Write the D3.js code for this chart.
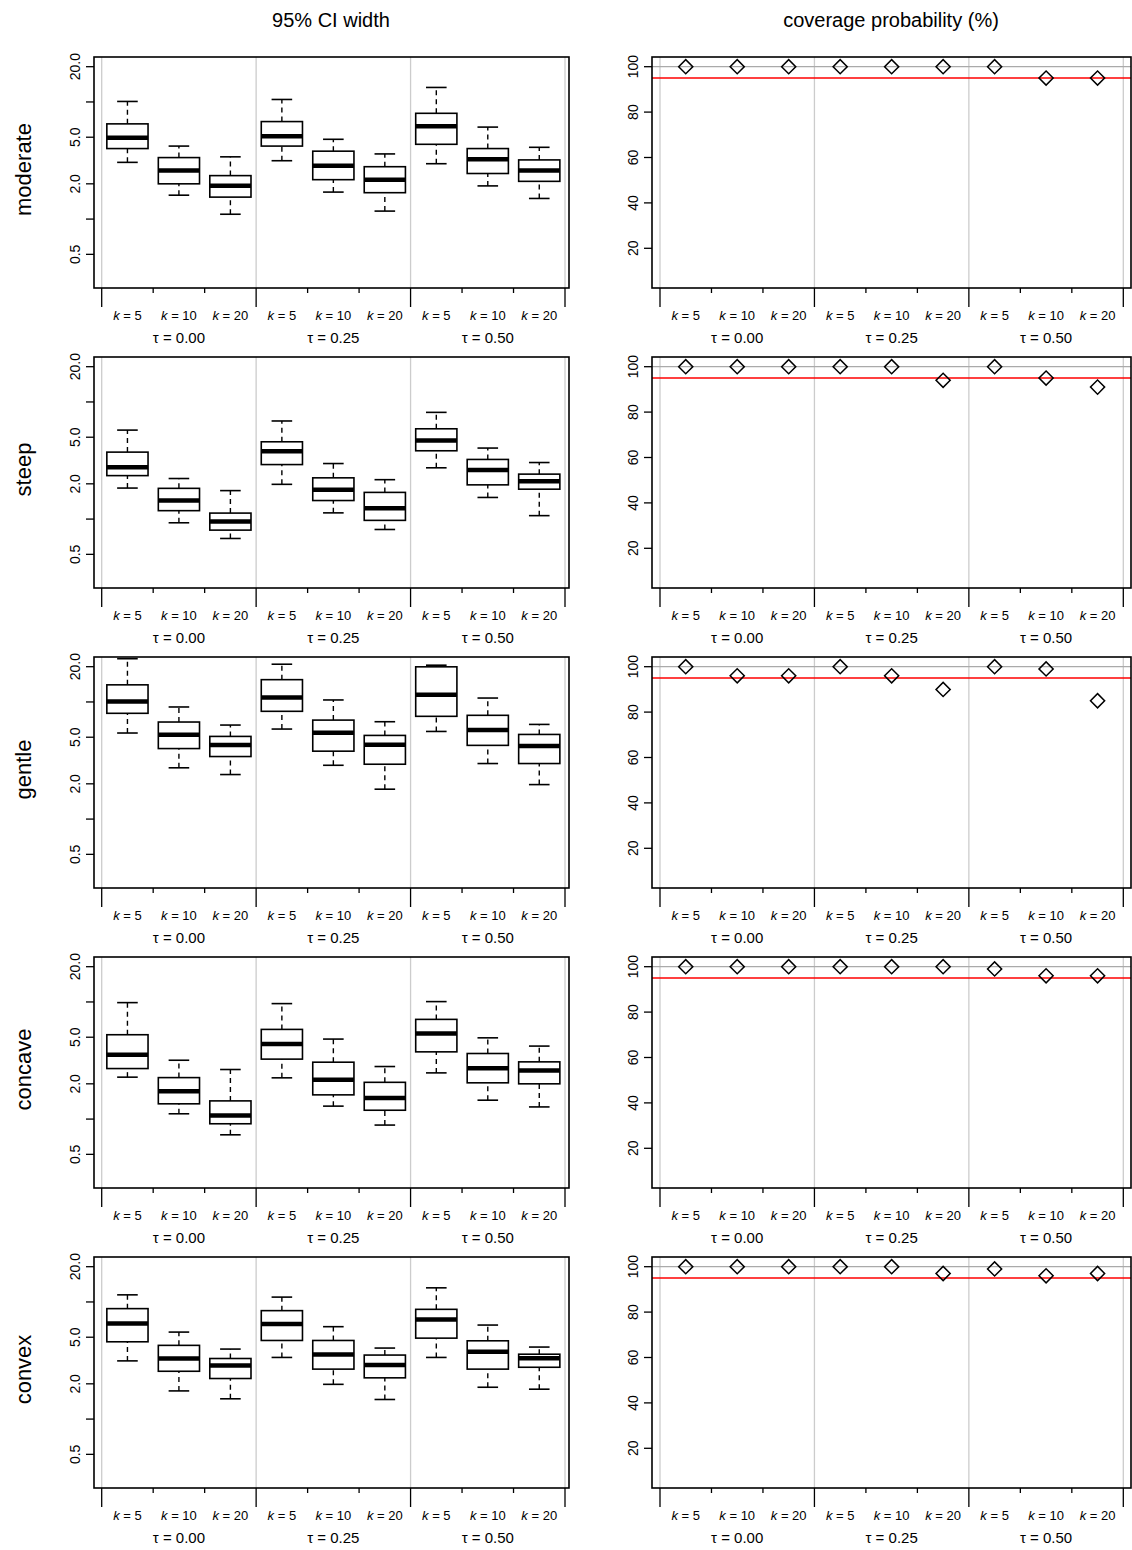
<!DOCTYPE html>
<html>
<head>
<meta charset="utf-8">
<script src="https://cdn.jsdelivr.net/npm/d3@7"></script>
<style>
  body { margin: 0; background: #fff; }
  text { font-family: "Liberation Sans", Arial, sans-serif; fill: #000; }
</style>
</head>
<body>
<div id="chart"></div>
<script>
// rows (curve shapes) and columns
const shapes = ["moderate", "steep", "gentle", "concave", "convex"]
const columnTitles = ["95% CI width", "coverage probability (%)"]
const kLabels = ["5", "10", "20"]
const tauLabels = ["0.00", "0.25", "0.50"]
const widthTicks = [0.5, 1, 2, 5, 10, 20]
const widthTickLabels = { 0.5: "0.5", 2: "2.0", 5: "5.0", 20: "20.0" }
const coverageTicks = [20, 40, 60, 80, 100]

// CI width boxes per row: [lower whisker, q1, median, q3, upper whisker]
const widthModerate = [
  [3.05, 4.0, 4.95, 6.5, 10.1], [1.6, 2.0, 2.6, 3.35, 4.2], [1.1, 1.54, 1.93, 2.35, 3.4],
  [3.15, 4.2, 5.1, 6.8, 10.5], [1.7, 2.17, 2.85, 3.8, 4.8], [1.17, 1.68, 2.17, 2.8, 3.6],
  [2.97, 4.35, 6.2, 8.0, 13.3], [1.92, 2.45, 3.25, 4.0, 6.1], [1.5, 2.1, 2.6, 3.2, 4.1],
]
const widthSteep = [
  [1.84, 2.35, 2.77, 3.73, 5.75], [0.93, 1.18, 1.44, 1.83, 2.22], [0.683, 0.805, 0.955, 1.125, 1.75],
  [1.98, 2.92, 3.8, 4.57, 6.88], [1.13, 1.44, 1.78, 2.25, 2.98], [0.815, 0.975, 1.24, 1.69, 2.17],
  [2.74, 3.83, 4.69, 5.9, 8.15], [1.53, 1.96, 2.63, 3.23, 4.04], [1.07, 1.8, 2.1, 2.42, 3.04],
]
const widthGentle = [
  [5.43, 8.0, 10.1, 14.0, 23.4], [2.74, 4.0, 5.25, 6.74, 9.06], [2.4, 3.42, 4.28, 5.08, 6.35],
  [5.87, 8.32, 10.9, 15.5, 21.0], [2.88, 3.8, 5.46, 7.0, 10.4], [1.8, 2.94, 4.31, 5.18, 6.78],
  [5.6, 7.54, 11.5, 19.95, 20.6], [2.98, 4.26, 5.75, 7.69, 10.8], [1.97, 2.98, 4.2, 5.28, 6.43],
]
const widthConcave = [
  [2.28, 2.7, 3.54, 5.25, 9.87], [1.11, 1.35, 1.73, 2.26, 3.18], [0.734, 0.912, 1.075, 1.43, 2.65],
  [2.25, 3.25, 4.37, 5.83, 9.68], [1.29, 1.61, 2.17, 3.06, 4.82], [0.889, 1.19, 1.51, 2.06, 2.81],
  [2.48, 3.75, 5.39, 7.1, 10.07], [1.45, 2.04, 2.72, 3.63, 4.94], [1.27, 2.0, 2.6, 3.08, 4.2],
]
const widthConvex = [
  [3.14, 4.57, 6.56, 8.77, 11.5], [1.74, 2.56, 3.29, 4.26, 5.53], [1.49, 2.22, 2.87, 3.29, 3.96],
  [3.36, 4.69, 6.48, 8.43, 11.0], [1.98, 2.67, 3.56, 4.69, 6.15], [1.47, 2.25, 2.9, 3.52, 4.04],
  [3.36, 4.91, 7.1, 8.65, 13.2], [1.87, 2.67, 3.75, 4.66, 6.35], [1.8, 2.77, 3.31, 3.58, 4.12],
]
const widthData = [widthModerate, widthSteep, widthGentle, widthConcave, widthConvex]

// coverage probability (%)
const coverageModerate = [100, 100, 100, 100, 100, 100, 100, 95, 95]
const coverageSteep = [100, 100, 100, 100, 100, 94, 100, 95, 91]
const coverageGentle = [100, 96, 96, 100, 96, 90, 100, 99, 85]
const coverageConcave = [100, 100, 100, 100, 100, 100, 99, 96, 96]
const coverageConvex = [100, 100, 100, 100, 100, 97, 99, 96, 97]
const coverageData = [coverageModerate, coverageSteep, coverageGentle, coverageConcave, coverageConvex]

const W = 1132, H = 1550, rowH = 300
const svg = d3.select("#chart").append("svg").attr("width", W).attr("height", H)

const panels = [
  { left: 94, right: 569, x0: 101.7, x1: 565 },
  { left: 652, right: 1131, x0: 660, x1: 1123.3 },
]
const plotTop = 57, plotBottom = 288

const yWidth = d3.scaleLog().domain([0.258, 24.2]).range([plotBottom, plotTop])
const yCov = d3.scaleLinear().domain([2.51, 104.27]).range([plotBottom, plotTop])

// column titles
columnTitles.forEach((t, i) => {
  svg.append("text").attr("x", i === 0 ? 331 : 891).attr("y", 27)
    .attr("text-anchor", "middle").attr("font-size", 20).text(t)
})

const drawXAxis = (g, x) => {
  const cats = d3.range(9)
  const ticks = d3.range(10).map((i) => i + 0.5)
  g.selectAll("line.xt").data(ticks).enter().append("line")
    .attr("x1", (d) => x(d)).attr("x2", (d) => x(d))
    .attr("y1", plotBottom).attr("y2", (d, i) => (i % 3 === 0 ? plotBottom + 19 : plotBottom + 5))
    .attr("stroke", "#000").attr("stroke-width", 1.3)
  cats.forEach((i) => {
    const t = g.append("text").attr("x", x(i + 1)).attr("y", plotBottom + 32)
      .attr("text-anchor", "middle").attr("font-size", 13)
    t.append("tspan").attr("font-style", "italic").text("k")
    t.append("tspan").text(" = " + kLabels[i % 3])
  })
  tauLabels.forEach((l, j) => {
    g.append("text").attr("x", x(3 * j + 2)).attr("y", plotBottom + 55)
      .attr("text-anchor", "middle").attr("font-size", 15).text("τ = " + l)
  })
}

const drawGroupLines = (g, x) => {
  g.selectAll("line.gl").data([0.5, 3.5, 6.5, 9.5]).enter().append("line")
    .attr("x1", (d) => x(d)).attr("x2", (d) => x(d))
    .attr("y1", plotTop).attr("y2", plotBottom)
    .attr("stroke", "#cccccc").attr("stroke-width", 1.3)
}

shapes.forEach((shape, r) => {
  const row = svg.append("g").attr("transform", `translate(0 ${r * rowH})`)

  // row label
  row.append("text")
    .attr("transform", `translate(31 ${(plotTop + plotBottom) / 2 - 3}) rotate(-90)`)
    .attr("text-anchor", "middle").attr("font-size", 22).text(shape)

  /*
   * ------------------------------------------------
   * Left: boxplots of CI width (log scale)
   * ------------------------------------------------
   */
  const pL = panels[0]
  const xL = d3.scaleLinear().domain([0.5, 9.5]).range([pL.x0, pL.x1])
  const gL = row.append("g")
  drawGroupLines(gL, xL)

  const bw = 20.6
  widthData[r].forEach((b, i) => {
    const cx = xL(i + 1)
    const [lo, q1, med, q3, hi] = b
    const g = gL.append("g")
    ;[[lo, q1], [q3, hi]].forEach(([a, c]) => {
      g.append("line").attr("x1", cx).attr("x2", cx)
        .attr("y1", yWidth(a)).attr("y2", yWidth(c))
        .attr("stroke", "#000").attr("stroke-width", 1.4).attr("stroke-dasharray", "5,4")
    })
    ;[lo, hi].forEach((v) => {
      g.append("line").attr("x1", cx - bw / 2).attr("x2", cx + bw / 2)
        .attr("y1", yWidth(v)).attr("y2", yWidth(v))
        .attr("stroke", "#000").attr("stroke-width", 1.6)
    })
    g.append("rect").attr("x", cx - bw).attr("width", 2 * bw)
      .attr("y", yWidth(q3)).attr("height", yWidth(q1) - yWidth(q3))
      .attr("fill", "#fff").attr("stroke", "#000").attr("stroke-width", 1.6)
    g.append("line").attr("x1", cx - bw).attr("x2", cx + bw)
      .attr("y1", yWidth(med)).attr("y2", yWidth(med))
      .attr("stroke", "#000").attr("stroke-width", 4.5)
  })

  gL.append("rect").attr("x", pL.left).attr("y", plotTop)
    .attr("width", pL.right - pL.left).attr("height", plotBottom - plotTop)
    .attr("fill", "none").attr("stroke", "#000").attr("stroke-width", 1.6)

  widthTicks.forEach((v) => {
    gL.append("line").attr("x1", pL.left - 8).attr("x2", pL.left)
      .attr("y1", yWidth(v)).attr("y2", yWidth(v))
      .attr("stroke", "#000").attr("stroke-width", 1.3)
    if (widthTickLabels[v]) {
      gL.append("text")
        .attr("transform", `translate(${pL.left - 14} ${yWidth(v)}) rotate(-90)`)
        .attr("text-anchor", "middle").attr("font-size", 14).text(widthTickLabels[v])
    }
  })
  drawXAxis(gL, xL)

  /*
   * ------------------------------------------------
   * Right: coverage probability
   * ------------------------------------------------
   */
  const pR = panels[1]
  const xR = d3.scaleLinear().domain([0.5, 9.5]).range([pR.x0, pR.x1])
  const gR = row.append("g")
  drawGroupLines(gR, xR)

  gR.append("line").attr("x1", pR.left).attr("x2", pR.right)
    .attr("y1", yCov(100)).attr("y2", yCov(100))
    .attr("stroke", "#aaaaaa").attr("stroke-width", 1.3)
  gR.append("line").attr("x1", pR.left).attr("x2", pR.right)
    .attr("y1", yCov(95)).attr("y2", yCov(95))
    .attr("stroke", "#ff0000").attr("stroke-width", 1.5)

  const sym = d3.symbol().type(d3.symbolSquare).size(100)
  gR.selectAll("path.pt").data(coverageData[r]).enter().append("path")
    .attr("d", sym)
    .attr("transform", (d, i) => `translate(${xR(i + 1)} ${yCov(d)}) rotate(45)`)
    .attr("fill", "none").attr("stroke", "#000").attr("stroke-width", 1.5)

  gR.append("rect").attr("x", pR.left).attr("y", plotTop)
    .attr("width", pR.right - pR.left).attr("height", plotBottom - plotTop)
    .attr("fill", "none").attr("stroke", "#000").attr("stroke-width", 1.6)

  coverageTicks.forEach((v) => {
    gR.append("line").attr("x1", pR.left - 8).attr("x2", pR.left)
      .attr("y1", yCov(v)).attr("y2", yCov(v))
      .attr("stroke", "#000").attr("stroke-width", 1.3)
    gR.append("text")
      .attr("transform", `translate(${pR.left - 14} ${yCov(v)}) rotate(-90)`)
      .attr("text-anchor", "middle").attr("font-size", 14).text(v)
  })
  drawXAxis(gR, xR)
})
</script>
</body>
</html>
